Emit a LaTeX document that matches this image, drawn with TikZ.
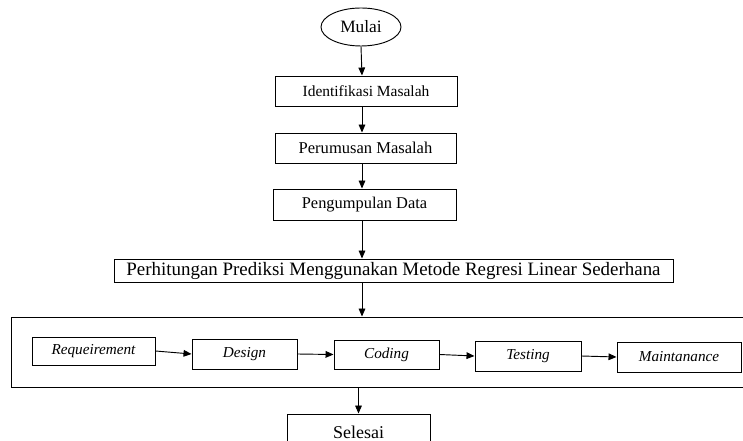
\documentclass[tikz,border=0pt]{standalone}
\usepackage{fontspec}
\setmainfont{Liberation Serif}
\usetikzlibrary{arrows.meta,shapes.geometric}
\newcommand{\fsz}[1]{\fontsize{#1}{#1}\selectfont}
\begin{document}
\begin{tikzpicture}[x=0.75pt,y=-0.75pt,
  box/.style={draw, line width=0.7pt, rectangle, inner sep=0pt},
  ibox/.style={box, font=\fsz{11.4pt}\itshape},
  arr/.style={line width=0.7pt, -{Triangle[length=6pt,width=5pt]}}]
\useasboundingbox (0,0) rectangle (743,441);
\clip (0,0) rectangle (743,441);
\node[draw, line width=0.7pt, ellipse, minimum width=60pt, minimum height=28.5pt, inner sep=0pt, font=\fsz{13pt}] (mulai) at (361,27) {Mulai};
\node[box, minimum width=136.5pt, minimum height=22.5pt, font=\fsz{11.6pt}] (ident) at (366,91) {Identifikasi Masalah};
\node[box, minimum width=135.75pt, minimum height=22.5pt, font=\fsz{12.4pt}] (rumus) at (365.5,148) {Perumusan Masalah};
\node[box, minimum width=137.25pt, minimum height=23.25pt, font=\fsz{12.3pt}] (kumpul) at (364.5,204.5) {Pengumpulan Data};
\node[box, minimum width=419.25pt, minimum height=17.25pt, font=\fsz{14.2pt}] (hitung) at (393.5,270.5) {Perhitungan Prediksi Menggunakan Metode Regresi Linear Sederhana};
\node[box, minimum width=561.75pt, minimum height=52.5pt] (outer) at (385.5,352) {};
\node[ibox, minimum width=92.25pt, minimum height=21pt] (req) at (93.5,351) {Requeirement};
\node[ibox, minimum width=78.75pt, minimum height=22.5pt] (design) at (244.5,354) {Design};
\node[ibox, minimum width=78.75pt, minimum height=21.75pt] (coding) at (386.5,354.5) {Coding};
\node[ibox, minimum width=79.5pt, minimum height=22.5pt] (testing) at (528,356) {Testing};
\node[ibox, minimum width=93pt, minimum height=22.5pt] (maint) at (679,357) {Maintanance};
\node[box, minimum width=107.25pt, minimum height=27pt, font=\fsz{13.5pt}] (selesai) at (358.5,432) {Selesai};
\coordinate (axis) at (362,0);
\draw[arr] (mulai.south) -- (axis |- ident.north);
\draw[arr] (axis |- ident.south) -- (axis |- rumus.north);
\draw[arr] (axis |- rumus.south) -- (axis |- kumpul.north);
\draw[arr] (axis |- kumpul.south) -- (axis |- hitung.north);
\draw[arr] (axis |- hitung.south) -- (axis |- outer.north);
\draw[arr] (selesai.north |- outer.south) -- (selesai.north);
\draw[arr] (req.east) -- (design.west);
\draw[arr] (design.east) -- (coding.west);
\draw[arr] (coding.east) -- (testing.west);
\draw[arr] (testing.east) -- (maint.west);
\end{tikzpicture}
\end{document}
